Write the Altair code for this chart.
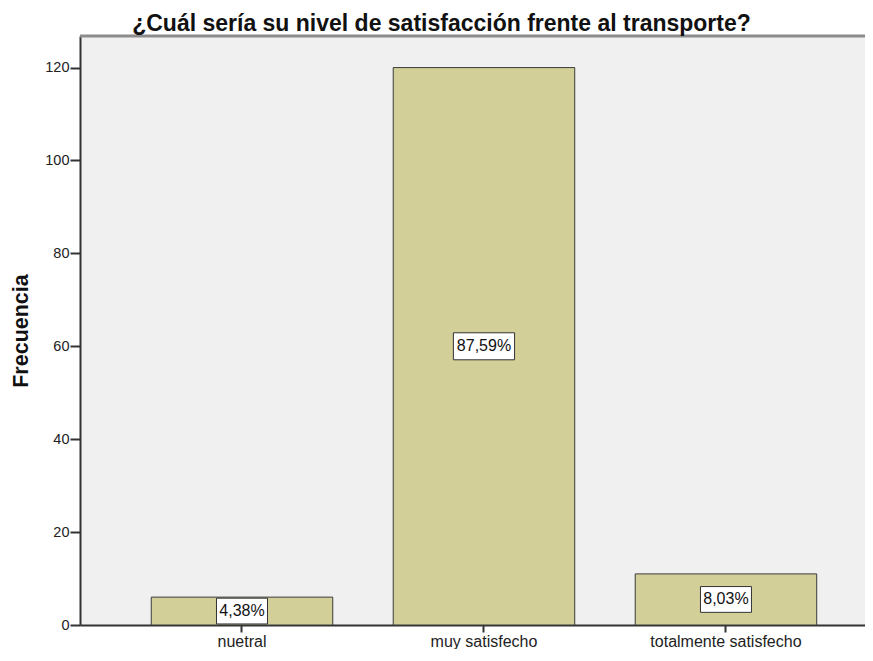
import altair as alt
import pandas as pd

categorias = ["nuetral", "muy satisfecho", "totalmente satisfecho"]
frecuencias = [6, 120, 11]
porcentajes = ["4,38%", "87,59%", "8,03%"]
y_ticks = [0, 20, 40, 60, 80, 100, 120]
y_max = 126.8

# label box outlines (unit-space paths, ~51/61 px wide, ~26 px tall at size 3600)
box_paths = [
    "M-0.85,-0.43L0.85,-0.43L0.85,0.43L-0.85,0.43Z",
    "M-1.02,-0.45L1.02,-0.45L1.02,0.45L-1.02,0.45Z",
    "M-0.85,-0.43L0.85,-0.43L0.85,0.43L-0.85,0.43Z",
]

df = pd.DataFrame({"cat": categorias, "n": frecuencias, "pct": porcentajes})
frame = pd.DataFrame({"top": [y_max]})

FONT = "Liberation Sans"

x_enc = alt.X(
    "cat:N",
    sort=categorias,
    title=None,
    scale=alt.Scale(paddingInner=0.25, paddingOuter=0.247, align=0.596),
    axis=alt.Axis(
        labelAngle=0, labelFontSize=16, labelFont=FONT, labelColor="#222222",
        tickSize=7, tickColor="#333333", tickWidth=2,
        domainColor="#333333", domainWidth=2, labelPadding=1,
    ),
)
y_enc = alt.Y(
    "n:Q",
    scale=alt.Scale(domain=[0, y_max], nice=False),
    title="Frecuencia",
    axis=alt.Axis(
        values=y_ticks, grid=False, labelFontSize=14.5, labelFont=FONT,
        labelColor="#222222", tickSize=10, tickColor="#333333", tickWidth=2,
        domainColor="#333333", domainWidth=2, labelPadding=1,
        titleFont=FONT, titleFontSize=21.5, titleFontWeight="bold",
        titleColor="#111111", titlePadding=12,
    ),
)

base = alt.Chart(df)

bars = base.mark_bar(fill="#d3cf98", stroke="#3a3a3a", strokeWidth=1).encode(x=x_enc, y=y_enc)

top_line = alt.Chart(frame).mark_rule(color="#8c8c8c", strokeWidth=3).encode(y=alt.Y("top:Q"))

boxes = base.transform_calculate(mid="datum.n / 2").mark_point(
    filled=True, fill="white", stroke="#333333", strokeWidth=1, opacity=1, size=3600
).encode(
    x=alt.X("cat:N", sort=categorias),
    y=alt.Y("mid:Q"),
    shape=alt.Shape("pct:N", scale=alt.Scale(domain=porcentajes, range=box_paths), legend=None),
)

labels = base.transform_calculate(mid="datum.n / 2").mark_text(
    font=FONT, fontSize=16, color="#111111"
).encode(
    x=alt.X("cat:N", sort=categorias),
    y=alt.Y("mid:Q"),
    text="pct:N",
)

chart = (
    alt.layer(bars, top_line, boxes, labels)
    .properties(
        width=785,
        height=589,
        title=alt.TitleParams(
            "¿Cuál sería su nivel de satisfacción frente al transporte?",
            font=FONT, fontSize=23, fontWeight="bold", color="#111111",
            anchor="middle", dx=-31, offset=-1,
        ),
        padding={"left": 72, "top": 28, "right": 0, "bottom": 24},
        autosize=alt.AutoSizeParams(type="none"),
        background="white",
    )
    .configure_view(fill="#f0f0f0", stroke=None)
)

chart.save("out.html", embed_options={"renderer": "svg", "actions": False})
